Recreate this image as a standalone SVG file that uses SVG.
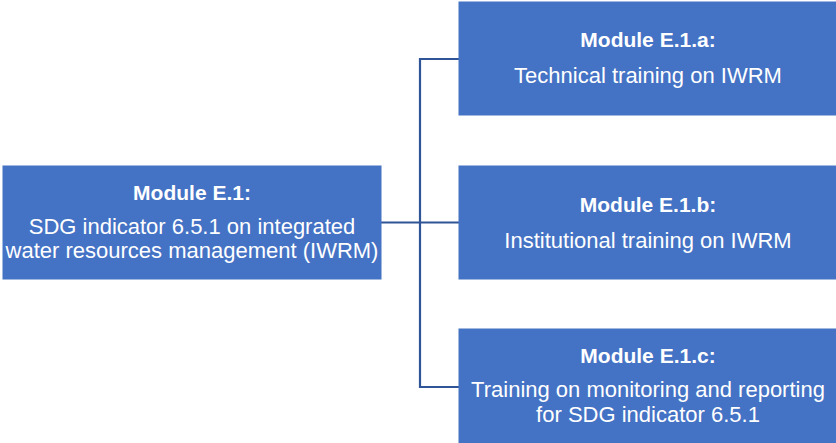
<svg xmlns="http://www.w3.org/2000/svg" width="836" height="443" viewBox="0 0 836 443">
<style>
.box{fill:#4472C4;stroke:#4472C4;stroke-width:1}
.t{font-family:"Liberation Sans",Arial,sans-serif;fill:#FFFFFF;text-anchor:middle}
.b{font-weight:bold;font-size:21px}
.r{font-size:22px}
.c{fill:none;stroke:#2F5597;stroke-width:2.2}
</style>
<rect width="836" height="443" fill="#FFFFFF"/>
<g id="connectors">
<path class="c" d="M381 222.5 H459"/>
<path class="c" d="M420 58 V388"/>
<path class="c" d="M419 59 H459"/>
<path class="c" d="M419 387 H459"/>
</g>
<g id="node-e1">
<rect class="box" x="3" y="166" width="378" height="113"/>
<text class="t b" x="192" y="200">Module E.1:</text>
<text class="t r" x="192" y="234">SDG indicator 6.5.1 on integrated</text>
<text class="t r" x="192" y="258">water resources management (IWRM)</text>
</g>
<g id="node-e1a">
<rect class="box" x="459" y="2" width="377" height="113"/>
<text class="t b" x="648" y="47">Module E.1.a:</text>
<text class="t r" x="648" y="83">Technical training on IWRM</text>
</g>
<g id="node-e1b">
<rect class="box" x="459" y="166" width="377" height="113"/>
<text class="t b" x="648" y="212">Module E.1.b:</text>
<text class="t r" x="648" y="248">Institutional training on IWRM</text>
</g>
<g id="node-e1c">
<rect class="box" x="459" y="329" width="377" height="114"/>
<text class="t b" x="648" y="363">Module E.1.c:</text>
<text class="t r" x="648" y="397">Training on monitoring and reporting</text>
<text class="t r" x="648" y="422">for SDG indicator 6.5.1</text>
</g>
</svg>
